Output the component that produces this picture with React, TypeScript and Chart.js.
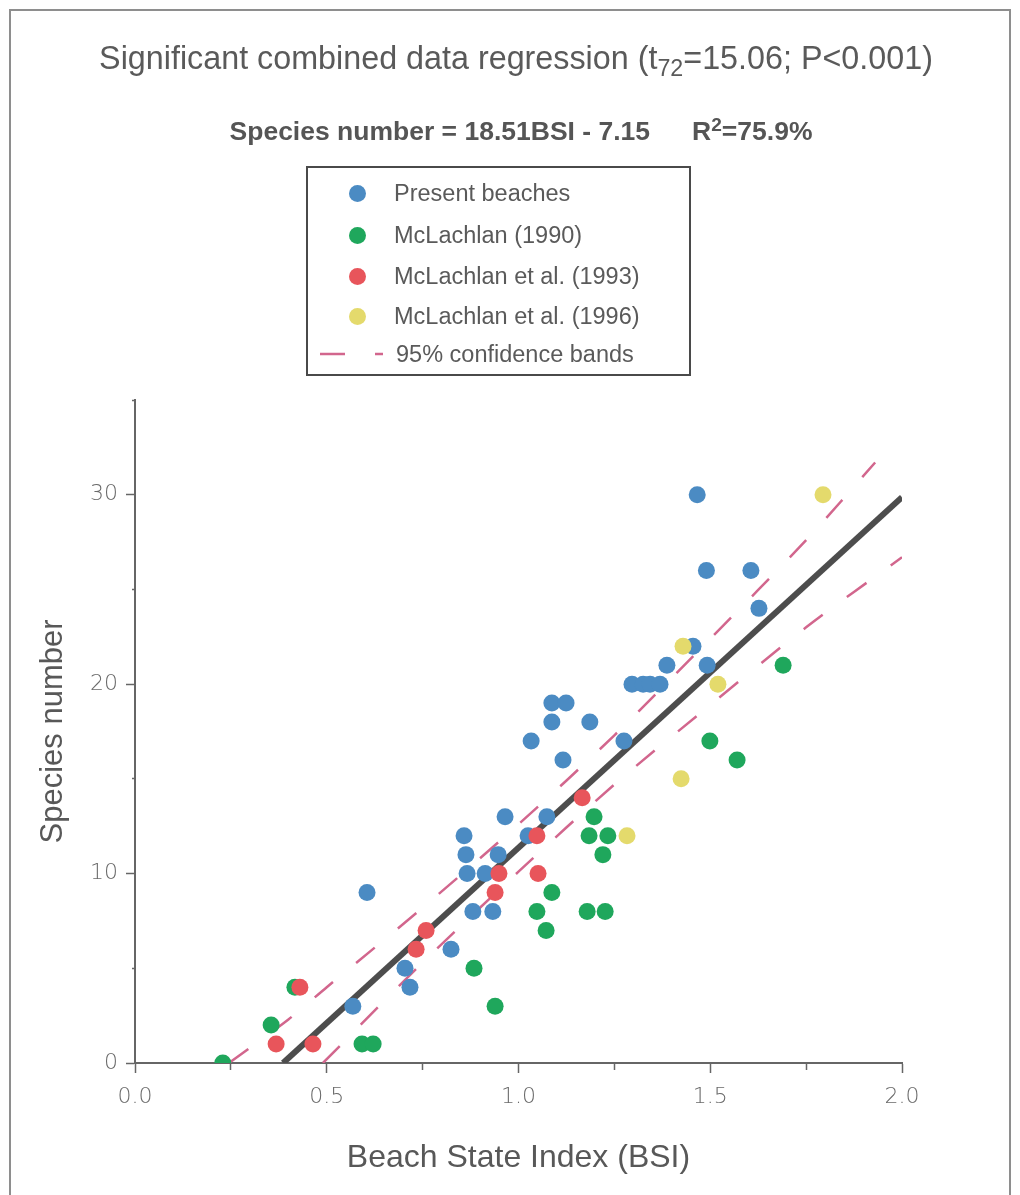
import React, { useEffect, useRef } from 'react';
import { Chart, registerables } from 'chart.js';

Chart.register(...registerables);

// ---- Data ----
const presentBSI = [1.466, 1.49, 1.606, 1.627, 1.455, 1.387, 1.492, 1.296, 1.325, 1.343, 1.369, 1.186, 1.275, 1.087, 1.124, 1.087, 1.033, 1.116, 0.965, 1.074, 1.025, 0.858, 0.863, 0.947, 0.866, 0.913, 0.881, 0.933, 0.605, 0.824, 0.704, 0.717, 0.568];
const presentSpecies = [30, 26, 26, 24, 22, 21, 21, 20, 20, 20, 20, 18, 17, 19, 19, 18, 17, 16, 13, 13, 12, 12, 11, 11, 10, 10, 8, 8, 9, 6, 5, 4, 3];

const mcl1990BSI = [0.229, 0.355, 0.417, 0.592, 0.621, 0.884, 0.939, 1.048, 1.179, 1.226, 1.087, 1.072, 1.197, 1.184, 1.233, 1.22, 1.499, 1.57, 1.69];
const mcl1990Species = [0, 2, 4, 1, 1, 5, 3, 8, 8, 8, 9, 7, 13, 12, 12, 11, 17, 16, 21];

const mcl1993BSI = [0.43, 0.368, 0.464, 0.733, 0.759, 0.939, 0.949, 1.051, 1.048, 1.166];
const mcl1993Species = [4, 1, 1, 6, 7, 9, 10, 10, 12, 14];

const mcl1996BSI = [1.794, 1.429, 1.52, 1.424, 1.283];
const mcl1996Species = [30, 22, 20, 15, 12];

// Regression line (Species number = 18.51BSI - 7.15), end points
const regBSI = [0.386, 2.0];
const regSpecies = [0, 29.87];

// 95% confidence bands
const upperBSI = [0.245, 0.4, 0.5, 0.75, 1.0, 1.25, 1.5, 1.75, 1.93];
const upperSpecies = [0, 2.3, 4.0, 8.2, 12.6, 17.3, 22.4, 27.6, 31.7];
const lowerBSI = [0.49, 0.75, 1.0, 1.25, 1.5, 1.75, 2.0];
const lowerSpecies = [0, 5.3, 10.1, 14.7, 18.9, 23.0, 26.7];

const seriesNames = ['Present beaches', 'McLachlan (1990)', 'McLachlan et al. (1993)', 'McLachlan et al. (1996)'];
const seriesColors = ['#4b8bc3', '#1fa75c', '#e8555b', '#e4da6c'];
const bandLabel = '95% confidence bands';

const xTickLabels = ['0.0', '0.5', '1.0', '1.5', '2.0'];
const yTickLabels = ['0', '10', '20', '30'];

const FONT = '"Liberation Sans", Arial, Helvetica, sans-serif';
const TICK_FONT = '"DejaVu Sans", "Liberation Sans", sans-serif';
const BAND_COLOR = '#d2668d';

function pts(xs: number[], ys: number[]) {
  return xs.map((x, i) => ({ x, y: ys[i] }));
}

export default function App() {
  const ref = useRef<HTMLCanvasElement>(null);

  useEffect(() => {
    const canvas = ref.current;
    if (!canvas) return;
    const pointSets = [
      pts(presentBSI, presentSpecies),
      pts(mcl1990BSI, mcl1990Species),
      pts(mcl1993BSI, mcl1993Species),
      pts(mcl1996BSI, mcl1996Species),
    ];
    const drawOrder = [3, 4, 2, 1];
    const scatterSets: any[] = pointSets.map((data, i) => ({
      type: 'scatter',
      label: seriesNames[i],
      data,
      backgroundColor: seriesColors[i],
      borderColor: seriesColors[i],
      borderWidth: 0,
      pointRadius: 8.5,
      pointHoverRadius: 8.5,
      order: drawOrder[i],
    }));

    const chart = new Chart(canvas, {
      type: 'scatter',
      data: {
        datasets: [
          ...scatterSets,
          {
            type: 'line',
            label: 'Regression',
            data: pts(regBSI, regSpecies),
            showLine: true,
            borderColor: '#4d4d4d',
            borderWidth: 6,
            pointRadius: 0,
            borderCapStyle: 'butt',
            order: 6,
          },
          {
            type: 'line',
            label: bandLabel,
            data: pts(upperBSI, upperSpecies),
            showLine: true,
            borderColor: BAND_COLOR,
            borderWidth: 2.5,
            borderDash: [24, 30],
            pointRadius: 0,
            tension: 0.3,
            borderCapStyle: 'butt',
            order: 7,
          },
          {
            type: 'line',
            label: bandLabel,
            data: pts(lowerBSI, lowerSpecies),
            showLine: true,
            borderColor: BAND_COLOR,
            borderWidth: 2.5,
            borderDash: [24, 30],
            pointRadius: 0,
            tension: 0.3,
            borderCapStyle: 'butt',
            order: 7,
          },
        ] as any,
      },
      options: {
        responsive: false,
        animation: false,
        events: [],
        layout: { padding: { left: 0, right: 118, top: 400, bottom: 0 } },
        plugins: {
          legend: { display: false },
          tooltip: { enabled: false },
          title: { display: false },
        },
        scales: {
          x: {
            type: 'linear',
            min: 0,
            max: 2,
            afterFit: (s: any) => {
              s.height = 132;
            },
            ticks: {
              stepSize: 0.25,
              autoSkip: false,
              maxRotation: 0,
              padding: 11,
              color: '#6a6a6a',
              font: { family: TICK_FONT, size: 22, weight: '200' as any },
              callback: (v: any) => {
                const idx = Math.round(Number(v) * 2);
                return Math.abs(Number(v) * 2 - idx) < 1e-6 ? xTickLabels[idx] ?? '' : '';
              },
            },
            grid: {
              drawOnChartArea: false,
              drawTicks: true,
              tickLength: 10,
              tickColor: '#666',
              tickWidth: 1.5,
              tickBorderDash: (ctx: any) => {
                const v = ctx.tick ? ctx.tick.value : 0;
                return Math.abs(v * 2 - Math.round(v * 2)) < 1e-6 ? [] : [6, 100];
              },
            },
            border: { display: true, color: '#666', width: 2 },
            title: {
              display: true,
              text: 'Beach State Index (BSI)',
              color: '#585858',
              font: { family: FONT, size: 32 },
              padding: { top: 0, bottom: 18 },
            },
          },
          y: {
            type: 'linear',
            min: 0,
            max: 35,
            afterFit: (s: any) => {
              s.width = 135;
            },
            ticks: {
              stepSize: 5,
              autoSkip: false,
              padding: 8,
              color: '#6a6a6a',
              font: { family: TICK_FONT, size: 22, weight: '200' as any },
              callback: (v: any) => {
                const n = Number(v);
                return n % 10 === 0 ? yTickLabels[n / 10] ?? '' : '';
              },
            },
            grid: {
              drawOnChartArea: false,
              drawTicks: true,
              tickLength: 9,
              tickColor: '#666',
              tickWidth: 1.5,
              tickBorderDash: (ctx: any) => {
                const v = ctx.tick ? ctx.tick.value : 0;
                return v % 10 === 0 ? [] : [0, 6, 3, 100];
              },
            },
            border: { display: true, color: '#666', width: 2 },
            title: {
              display: true,
              text: 'Species number',
              color: '#585858',
              font: { family: FONT, size: 31 },
              padding: { top: 35, bottom: 0 },
            },
          },
        },
      },
    });
    return () => chart.destroy();
  }, []);

  const rowCenters = [25, 67, 108, 148, 186];

  return (
    <div style={{ position: 'relative', width: 1020, height: 1195, overflow: 'hidden', background: '#fff' }}>
      <style>{`html,body{margin:0;padding:0;overflow:hidden;background:#fff;}`}</style>
      <canvas ref={ref} width={1020} height={1195} style={{ position: 'absolute', left: 0, top: 0, width: 1020, height: 1195 }} />
      <div
        style={{
          position: 'absolute',
          left: 9,
          top: 9,
          width: 1002,
          height: 1300,
          border: '2px solid #8e8e8e',
          boxSizing: 'border-box',
          pointerEvents: 'none',
        }}
      />
      <div
        style={{
          position: 'absolute',
          left: 16,
          top: 38,
          width: 1000,
          height: 40,
          lineHeight: '40px',
          textAlign: 'center',
          fontFamily: FONT,
          fontSize: 32.3,
          color: '#5a5a5a',
          whiteSpace: 'nowrap',
        }}
      >
        Significant combined data regression (t
        <span style={{ fontSize: '0.72em', position: 'relative', top: '0.3em' }}>72</span>
        =15.06; P&lt;0.001)
      </div>
      <div
        style={{
          position: 'absolute',
          left: 21,
          top: 116,
          width: 1000,
          height: 30,
          lineHeight: '30px',
          textAlign: 'center',
          fontFamily: FONT,
          fontSize: 26.5,
          fontWeight: 'bold',
          color: '#555',
          whiteSpace: 'nowrap',
        }}
      >
        Species number = 18.51BSI - 7.15
        <span style={{ display: 'inline-block', width: 42 }} />
        R<span style={{ fontSize: '0.72em', position: 'relative', top: '-0.45em' }}>2</span>=75.9%
      </div>
      <div
        style={{
          position: 'absolute',
          left: 306,
          top: 166,
          width: 385,
          height: 210,
          border: '2px solid #4a4a4a',
          boxSizing: 'border-box',
          background: '#fff',
        }}
      >
        {seriesNames.map((name, i) => (
          <div key={name} style={{ position: 'absolute', left: 0, top: rowCenters[i] - 15, height: 30, width: 380 }}>
            <div
              style={{
                position: 'absolute',
                left: 40.5,
                top: 6.5,
                width: 17,
                height: 17,
                borderRadius: '50%',
                background: seriesColors[i],
              }}
            />
            <div
              style={{
                position: 'absolute',
                left: 86,
                top: 0,
                lineHeight: '30px',
                fontFamily: FONT,
                fontSize: 23.5,
                color: '#5a5a5a',
                whiteSpace: 'nowrap',
              }}
            >
              {name}
            </div>
          </div>
        ))}
        <div style={{ position: 'absolute', left: 0, top: rowCenters[4] - 15, height: 30, width: 380 }}>
          <svg width={80} height={30} style={{ position: 'absolute', left: 0, top: 0 }}>
            <line x1={12} y1={15} x2={37} y2={15} stroke={BAND_COLOR} strokeWidth={2.5} />
            <line x1={67} y1={15} x2={75} y2={15} stroke={BAND_COLOR} strokeWidth={2.5} />
          </svg>
          <div
            style={{
              position: 'absolute',
              left: 88,
              top: 0,
              lineHeight: '30px',
              fontFamily: FONT,
              fontSize: 23.5,
              color: '#5a5a5a',
              whiteSpace: 'nowrap',
            }}
          >
            {bandLabel}
          </div>
        </div>
      </div>
    </div>
  );
}
